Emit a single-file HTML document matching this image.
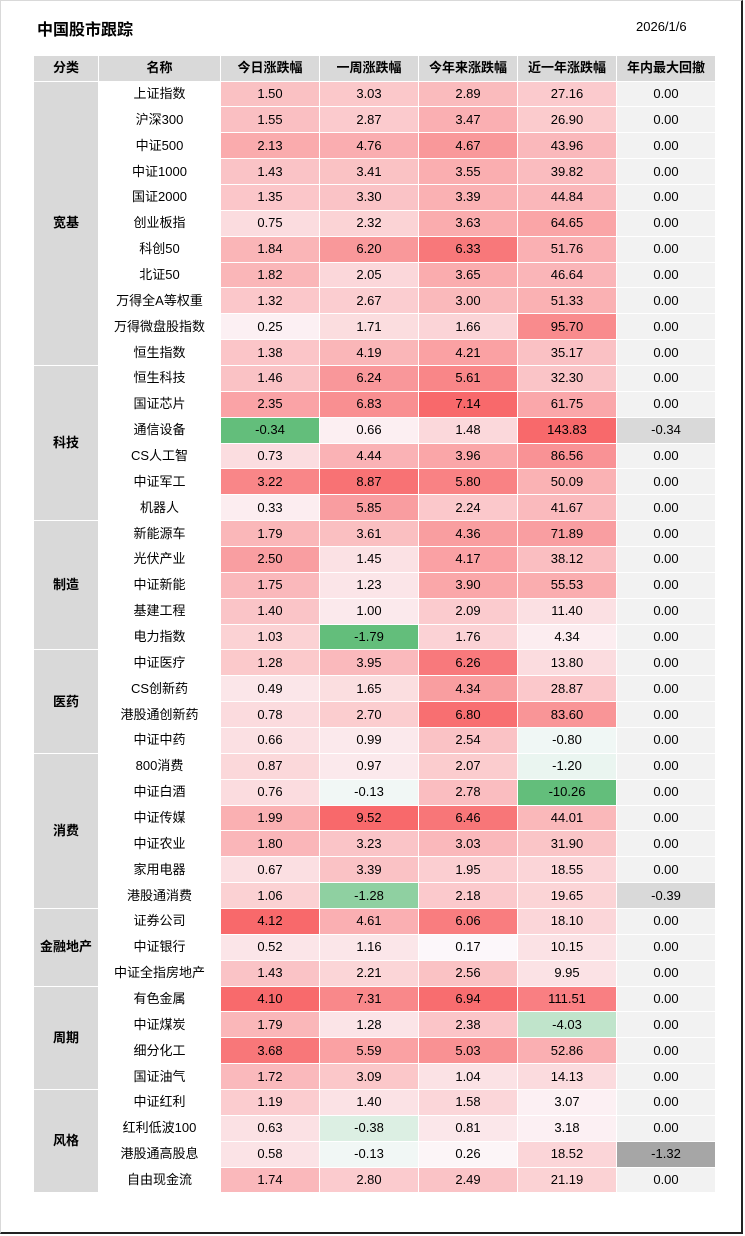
<!DOCTYPE html>
<html><head><meta charset="utf-8"><style>
body{margin:0;width:745px;height:1236px;background:#fff;font-family:"Liberation Sans","Noto Sans CJK SC",sans-serif;overflow:hidden}
.frame{position:absolute;left:0;top:0;width:743px;height:1234px;border-top:1px solid #d9d9d9;border-left:1px solid #d9d9d9;border-right:2px solid #222;border-bottom:2px solid #222;box-sizing:border-box}
.title{position:absolute;left:37px;top:16px;font-size:16px;font-weight:bold;color:#000}
.date{position:absolute;left:636px;top:19px;font-size:13px;color:#000}
table{position:absolute;left:33px;top:55px;border-collapse:collapse;table-layout:fixed;font-size:13px;color:#000}
td,th{border:1px solid #fff;text-align:center;padding:0;height:24.86px;line-height:16px;overflow:hidden;white-space:nowrap}
th{background:#d9d9d9;font-weight:bold;height:24.5px}
td.cat{background:#d9d9d9;font-weight:bold}
</style></head><body>
<div class="frame"></div>
<div class="title">中国股市跟踪</div>
<div class="date">2026/1/6</div>
<table id="t"><colgroup><col style="width:65px"><col style="width:122px"><col style="width:99px"><col style="width:99px"><col style="width:99px"><col style="width:99px"><col style="width:99px"></colgroup>
<tr><th>分类</th><th>名称</th><th>今日涨跌幅</th><th>一周涨跌幅</th><th>今年来涨跌幅</th><th>近一年涨跌幅</th><th>年内最大回撤</th></tr>
</table>
<script>
var G=[["宽基",[["上证指数",1.50,3.03,2.89,27.16,0],["沪深300",1.55,2.87,3.47,26.90,0],["中证500",2.13,4.76,4.67,43.96,0],["中证1000",1.43,3.41,3.55,39.82,0],["国证2000",1.35,3.30,3.39,44.84,0],["创业板指",0.75,2.32,3.63,64.65,0],["科创50",1.84,6.20,6.33,51.76,0],["北证50",1.82,2.05,3.65,46.64,0],["万得全A等权重",1.32,2.67,3.00,51.33,0],["万得微盘股指数",0.25,1.71,1.66,95.70,0],["恒生指数",1.38,4.19,4.21,35.17,0]]],
["科技",[["恒生科技",1.46,6.24,5.61,32.30,0],["国证芯片",2.35,6.83,7.14,61.75,0],["通信设备",-0.34,0.66,1.48,143.83,-0.34],["CS人工智",0.73,4.44,3.96,86.56,0],["中证军工",3.22,8.87,5.80,50.09,0],["机器人",0.33,5.85,2.24,41.67,0]]],
["制造",[["新能源车",1.79,3.61,4.36,71.89,0],["光伏产业",2.50,1.45,4.17,38.12,0],["中证新能",1.75,1.23,3.90,55.53,0],["基建工程",1.40,1.00,2.09,11.40,0],["电力指数",1.03,-1.79,1.76,4.34,0]]],
["医药",[["中证医疗",1.28,3.95,6.26,13.80,0],["CS创新药",0.49,1.65,4.34,28.87,0],["港股通创新药",0.78,2.70,6.80,83.60,0],["中证中药",0.66,0.99,2.54,-0.80,0]]],
["消费",[["800消费",0.87,0.97,2.07,-1.20,0],["中证白酒",0.76,-0.13,2.78,-10.26,0],["中证传媒",1.99,9.52,6.46,44.01,0],["中证农业",1.80,3.23,3.03,31.90,0],["家用电器",0.67,3.39,1.95,18.55,0],["港股通消费",1.06,-1.28,2.18,19.65,-0.39]]],
["金融地产",[["证券公司",4.12,4.61,6.06,18.10,0],["中证银行",0.52,1.16,0.17,10.15,0],["中证全指房地产",1.43,2.21,2.56,9.95,0]]],
["周期",[["有色金属",4.10,7.31,6.94,111.51,0],["中证煤炭",1.79,1.28,2.38,-4.03,0],["细分化工",3.68,5.59,5.03,52.86,0],["国证油气",1.72,3.09,1.04,14.13,0]]],
["风格",[["中证红利",1.19,1.40,1.58,3.07,0],["红利低波100",0.63,-0.38,0.81,3.18,0],["港股通高股息",0.58,-0.13,0.26,18.52,-1.32],["自由现金流",1.74,2.80,2.49,21.19,0]]]];
var mx=[0,0,0,0],mn=[0,0,0,0];
G.forEach(g=>g[1].forEach(r=>{for(var i=0;i<4;i++){mx[i]=Math.max(mx[i],r[i+1]);mn[i]=Math.min(mn[i],r[i+1]);}}));
function mix(a,b,t){return "rgb("+a.map((x,i)=>Math.round(x+(b[i]-x)*t)).join(",")+")";}
var W=[252,252,255],R=[248,105,107],Gn=[99,190,123];
function col(v,i){if(v>=0)return mix(W,R,Math.pow(v/mx[i],i==3?0.65:0.9));return mix(W,Gn,v/mn[i]);}
var h="";
G.forEach(g=>{g[1].forEach((r,k)=>{h+="<tr>";if(k==0)h+='<td class="cat" rowspan="'+g[1].length+'">'+g[0]+"</td>";h+="<td>"+r[0]+"</td>";
for(var i=0;i<4;i++)h+='<td style="background:'+col(r[i+1],i)+'">'+r[i+1].toFixed(2)+"</td>";
var d=r[5],bg=d==0?"#f2f2f2":(d<-1?"#a6a6a6":"#d9d9d9");h+='<td style="background:'+bg+'">'+d.toFixed(2)+"</td></tr>";});});
document.getElementById("t").insertAdjacentHTML("beforeend",h);
</script>
</body></html>
